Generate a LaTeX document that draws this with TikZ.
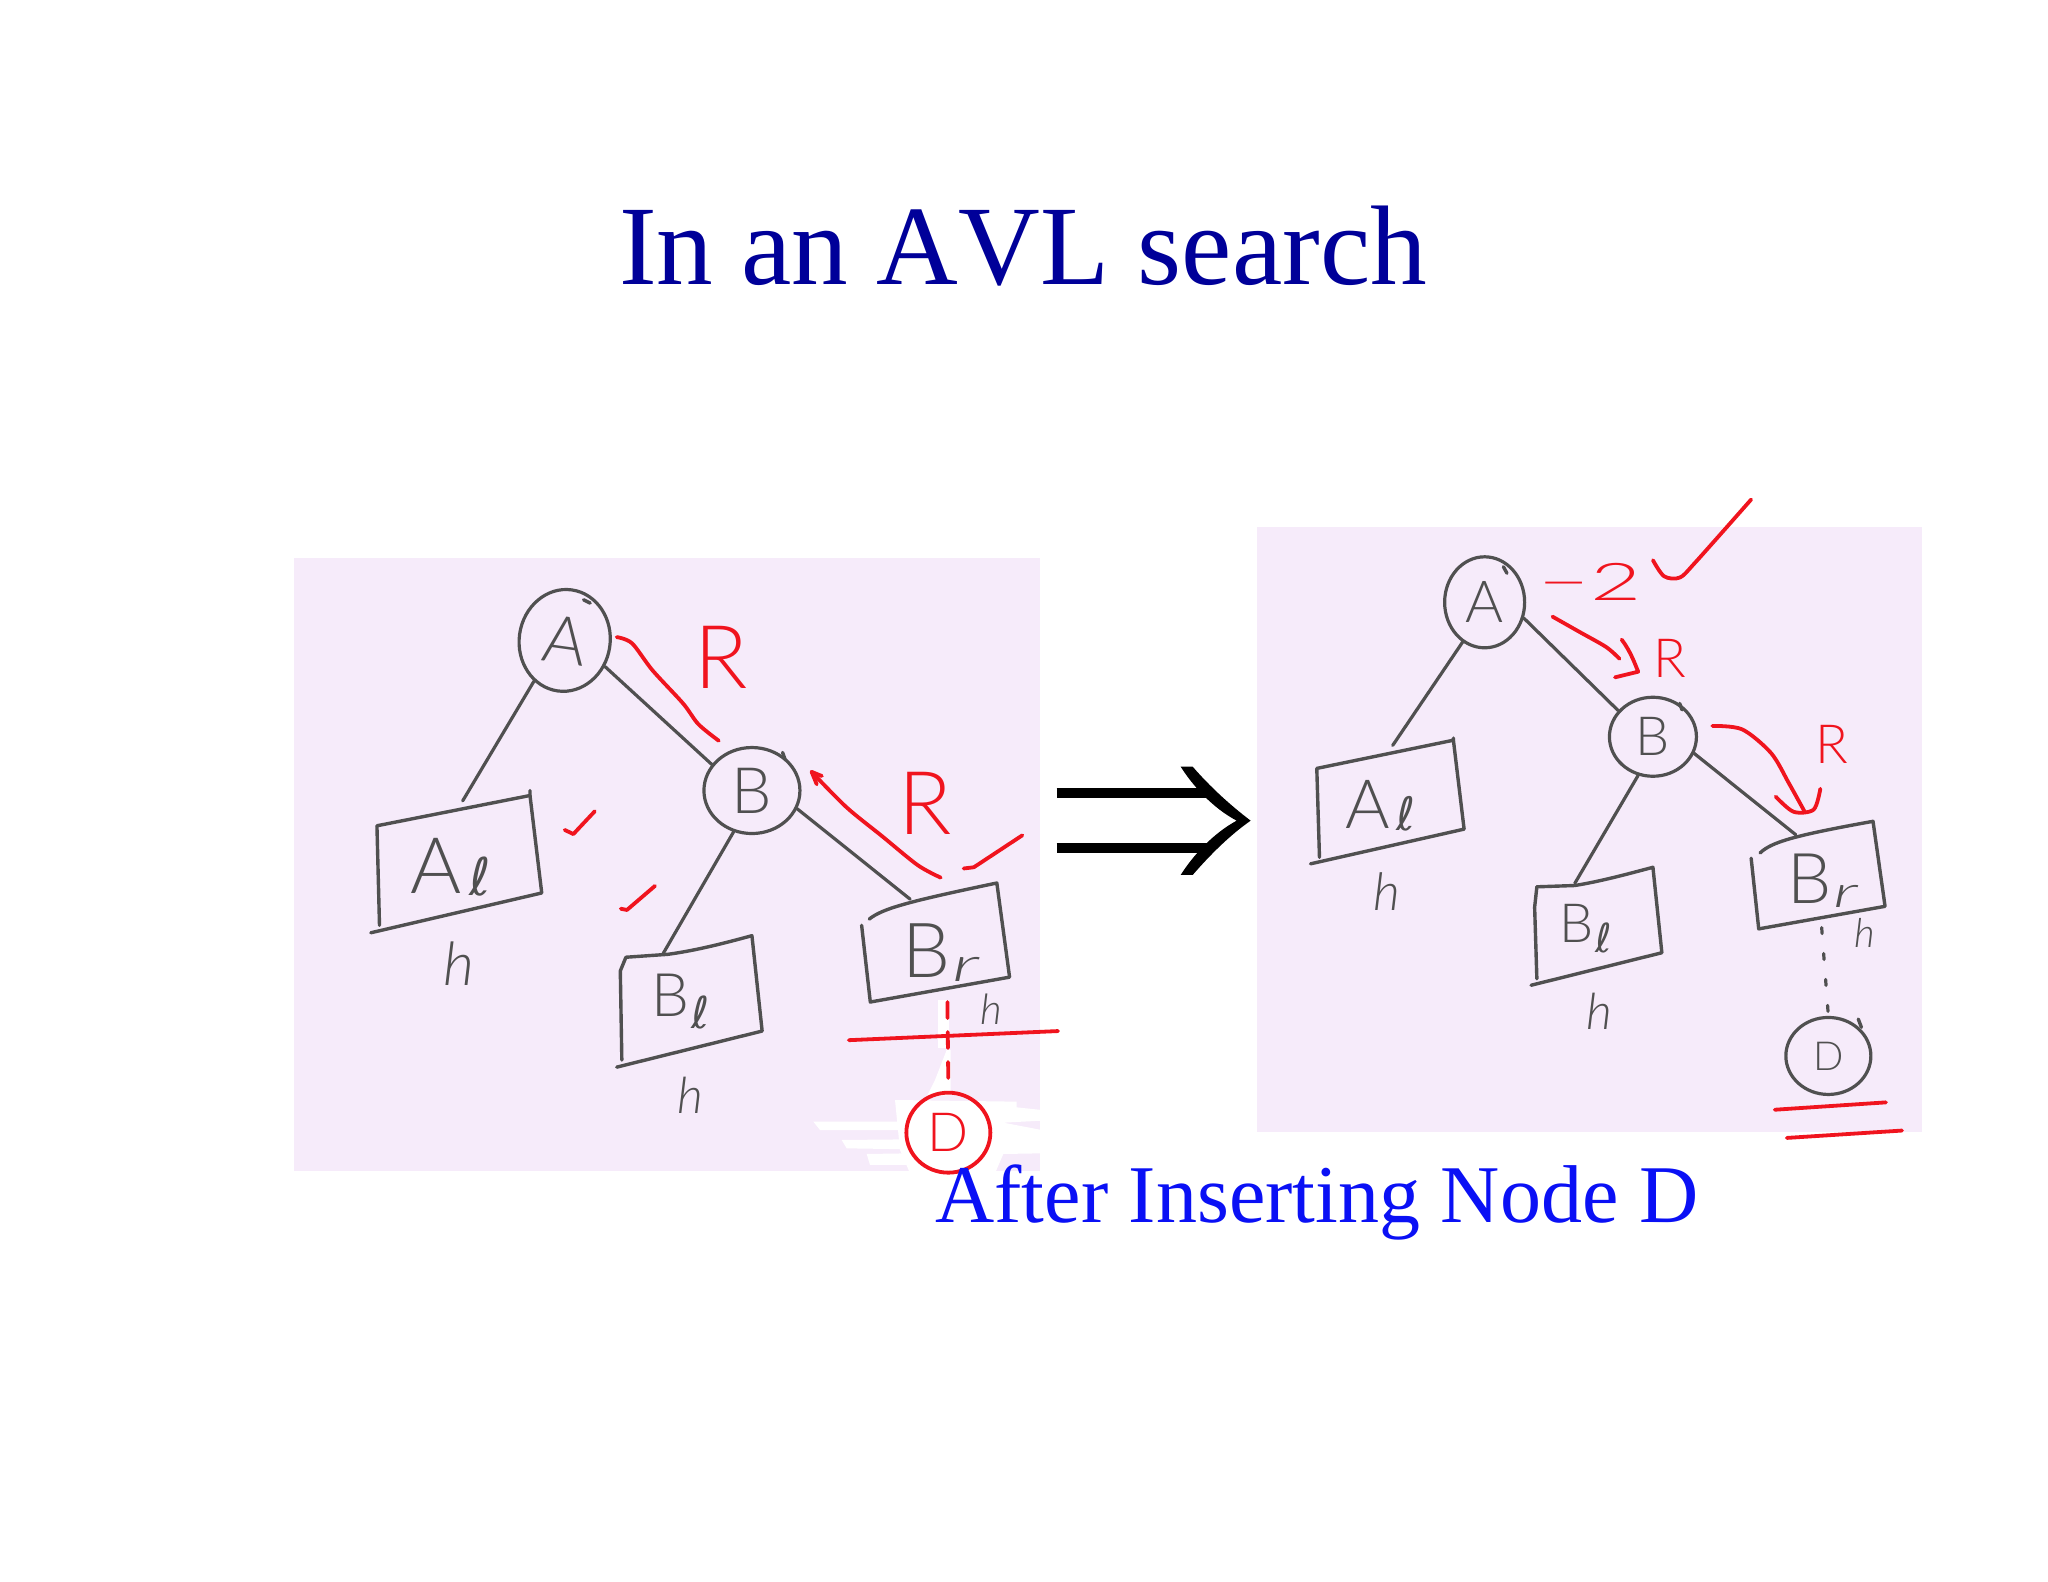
\documentclass[tikz,border=0pt]{standalone}
\usepackage{fontspec}
\usetikzlibrary{shapes.geometric,arrows.meta}
\setmainfont[Kerning=Off]{Liberation Serif}
\newfontfamily\hwfont{Lato Light}
\newfontfamily\hwital{Lato Light Italic}
\newfontfamily\ellfont{DejaVu Sans}
\definecolor{panel}{HTML}{F6EBFA}
\definecolor{ink}{HTML}{505050}
\definecolor{pen}{HTML}{F0141E}
\definecolor{titleblue}{HTML}{000099}
\definecolor{subblue}{HTML}{0A10F5}
\newcommand{\hws}[1]{\fontsize{#1}{#1}\selectfont}
\tikzset{
 circ/.style={ellipse,draw=ink,line width=1.6pt,inner sep=0pt,text=ink,font=\hwfont},
 rcirc/.style={ellipse,draw=pen,line width=1.9pt,inner sep=0pt,text=pen,font=\hwfont},
 wire/.style={draw=ink,line width=1.6pt,line cap=round},
 boxline/.style={draw=ink,line width=1.7pt,line cap=round,line join=round},
 redline/.style={draw=pen,line width=1.9pt,line cap=round,line join=round},
 lab/.style={inner sep=0pt,text=ink,font=\hwfont},
 hlab/.style={inner sep=0pt,text=ink,font=\hwital},
 rlab/.style={inner sep=0pt,text=pen,font=\hwfont},
 wipe/.style={fill=white,draw=none},
}
\begin{document}
\begin{tikzpicture}[x=0.5pt,y=-0.5pt]
\useasboundingbox (0,0) rectangle (2048,1582);
\fill[white] (0,0) rectangle (2048,1582);
\node[anchor=base,inner sep=0pt,text=titleblue,font=\hws{56.6}] (title) at (1023,285) {In an AVL search};

% ---------- panels
\fill[panel] (294,558) rectangle (1040,1171);
\fill[panel] (1257,527) rectangle (1922,1132);
% worn patches beside D
\begin{scope}[shift={(800,1050)},xscale=0.3333,yscale=0.3333]
 \fill[wipe] (40,215) -- (320,215) -- (320,240) -- (60,240) -- cycle;
 \fill[wipe] (125,270) -- (330,268) -- (330,298) -- (140,295) -- cycle;
 \fill[wipe] (200,312) -- (330,310) -- (330,345) -- (210,345) -- cycle;
 \fill[wipe] (285,150) -- (650,155) -- (650,172) -- (725,180) -- (725,212) -- (610,218) -- (725,240) -- (725,310) -- (610,312) -- (585,370) -- (330,370) -- (300,300) -- cycle;
 \fill[wipe] (405,90) -- (440,0) -- (452,0) -- (452,135) -- (380,140) -- cycle;
\end{scope}
\begin{scope}[shift={(280,550)},xscale=0.5102,yscale=0.4147]
 \fill[wipe] (1290,1085) -- (1312,1085) -- (1312,1200) -- (1290,1200) -- cycle;
 \node[circ,minimum width=45.5pt,minimum height=51pt,rotate=-8,font=\hwfont\hws{33}] (LA) at (558,218) {A};
 \node[circ,minimum width=48pt,minimum height=43pt,font=\hwfont\hws{32}] (LB) at (925,580) {B};
 \draw[boxline] (595,120) -- (608,128);
 \draw[boxline] (985,488) -- (990,505);
 % boxes
 \draw[boxline] (490,580) -- (490,592) -- (190,665) -- (195,905);
 \draw[boxline] (490,592) -- (513,827) -- (178,923);
 \draw[boxline] (678,982) -- (760,975) .. controls (820,965) and (880,945) .. (925,930) -- (945,1160) -- (660,1247);
 \draw[boxline] (678,982) -- (667,1015) -- (670,1230);
 \draw[boxline] (1155,890) .. controls (1180,865) and (1230,848) .. (1405,803) -- (1430,1030) -- (1157,1090) -- (1140,905);
 \coordinate (LAlT) at (358,605);
 \coordinate (LBlT) at (750,975);
 \coordinate (LBrT) at (1235,842);
 \draw[wire] (LA.-119) -- (LAlT);
 \draw[wire] (LA.-25) -- (LB.147);
 \draw[wire] (LB.-114) -- (LBlT);
 \draw[wire] (LB.-22) -- (LBrT);
 % labels
 \node[lab] (LAl) at (335,765) {\hws{39}A\hspace{4pt}\raisebox{-1pt}{\ellfont\hws{26}ℓ}};
 \node[lab] (LBl) at (785,1090) {\hws{30}B\hspace{1pt}\raisebox{-6pt}{\ellfont\hws{22}ℓ}};
 \node[lab] (LBr) at (1295,970) {\hws{38}B\hspace{1pt}\raisebox{-2pt}{\scalebox{1.7}[1]{\hwital\hws{24}r}}};
 \node[hlab,font=\hwital\hws{30}] (Lh1) at (350,997) {h};
 \node[hlab,font=\hwital\hws{25}] (Lh2) at (805,1315) {h};
 \node[hlab,font=\hwital\hws{21}] (Lh3) at (1395,1108) {h};
 % red marks
 \node[rcirc,minimum width=42pt,minimum height=40pt,font=\hwfont\hws{27}] (LD) at (1310,1405) {D};
 \coordinate (LBrB) at (1308,1090);
 \draw[redline,dash pattern=on 8pt off 7pt] (LBrB) -- (LD.north);
 \draw[redline] (1115,1182) -- (1525,1160);
 \draw[redline] plot[smooth] coordinates {(660,210) (690,225) (730,290) (790,370) (820,420) (860,460)};
 \draw[redline] plot[smooth] coordinates {(1042,535) (1110,620) (1180,690) (1250,760) (1295,790)};
 \draw[redline] (1042,535) -- (1062,545);
 \draw[redline] (1042,535) -- (1052,565);
 \draw[redline] (558,675) -- (575,685) -- (617,630);
 \draw[redline] (668,865) -- (680,868) -- (735,810);
 \draw[redline] (1340,768) -- (1360,765) -- (1455,688);
 \node[rlab,font=\hwfont\hws{44}] (LR1) at (865,258) {R};
 \node[rlab,font=\hwfont\hws{44}] (LR2) at (1265,612) {R};
\end{scope}

% ---------- implication arrow
\begin{scope}[shift={(1030,740)},xscale=0.3333,yscale=0.3333]
 \coordinate (ImpA) at (80,160); \coordinate (ImpB) at (540,160);
 \coordinate (ImpC) at (80,325); \coordinate (ImpD) at (540,325);
 \draw[line width=5pt] (ImpA) -- (ImpB);
 \draw[line width=5pt] (ImpC) -- (ImpD);
 \fill (452,80) -- (488,80) .. controls (540,140) and (600,195) .. (662,242) .. controls (600,285) and (540,345) .. (488,405) -- (452,405) .. controls (490,345) and (550,280) .. (620,242) .. controls (550,205) and (490,140) .. (452,80) -- cycle;
\end{scope}

% ---------- right panel
\begin{scope}[shift={(1240,480)},xscale=0.4464,yscale=0.4337]
 \node[circ,minimum width=40pt,minimum height=45.5pt,font=\hwfont\hws{29}] (RA) at (548,282) {A};
 \node[circ,minimum width=43.5pt,minimum height=39.5pt,font=\hwfont\hws{27}] (RB) at (925,592) {B};
 \node[circ,minimum width=42.5pt,minimum height=38.5pt,font=\hwfont\hws{20}] (RD) at (1318,1328) {D};
 \draw[boxline] (590,200) -- (598,215);
 \draw[boxline] (985,515) -- (990,530);
 \draw[boxline] (1385,1243) -- (1392,1262);
 \draw[boxline] (478,595) -- (478,600) -- (172,665) -- (178,870);
 \draw[boxline] (478,600) -- (502,805) -- (158,885);
 \draw[boxline] (665,938) -- (750,935) .. controls (810,925) and (870,908) .. (925,893) -- (945,1090) -- (652,1165);
 \draw[boxline] (665,938) -- (660,985) -- (665,1150);
 \draw[boxline] (1165,860) .. controls (1190,835) and (1240,820) .. (1418,787) -- (1445,983) -- (1162,1035) -- (1145,872);
 \coordinate (RAlT) at (342,612);
 \coordinate (RBlT) at (750,930);
 \coordinate (RBrT) at (1245,818);
 \coordinate (RBrB) at (1303,1032);
 \draw[wire] (RA.-119) -- (RAlT);
 \draw[wire] (RA.-22) -- (RB.143);
 \draw[wire] (RB.-111) -- (RBlT);
 \draw[wire] (RB.-22) -- (RBrT);
 \draw[wire,dash pattern=on 3pt off 10pt] (RBrB) -- (RD.north);
 \node[lab] (RAl) at (315,750) {\hws{34}A\hspace{3pt}\raisebox{-1pt}{\ellfont\hws{23}ℓ}};
 \node[lab] (RBl) at (775,1035) {\hws{27}B\hspace{1pt}\raisebox{-5pt}{\ellfont\hws{20}ℓ}};
 \node[lab] (RBr) at (1305,925) {\hws{35}B\hspace{1pt}\raisebox{-2pt}{\scalebox{1.7}[1]{\hwital\hws{22}r}}};
 \node[hlab,font=\hwital\hws{26}] (Rh1) at (330,950) {h};
 \node[hlab,font=\hwital\hws{25}] (Rh2) at (805,1225) {h};
 \node[hlab,font=\hwital\hws{20}] (Rh3) at (1400,1045) {h};
 % red marks
 \node[rlab] (Rminus2) at (784,235) {\scalebox{1.7}[1]{\hwfont\hws{26}−2}};
 \draw[redline] plot[smooth] coordinates {(925,185) (950,222) (985,225) (1020,190) (1145,45)};
 \draw[redline] plot[smooth] coordinates {(700,315) (760,350) (820,385) (850,412)};
 \draw[redline] (855,368) .. controls (875,395) and (885,425) .. (892,442) -- (840,455);
 \node[rlab,font=\hwfont\hws{27}] (RR1) at (962,412) {R};
 \draw[redline] plot[smooth] coordinates {(1058,567) (1125,575) (1190,630) (1230,700) (1265,765)};
 \draw[redline] plot[smooth] coordinates {(1200,730) (1240,765) (1285,760) (1300,712)};
 \node[rlab,font=\hwfont\hws{27}] (RR2) at (1325,610) {R};
 \draw[redline] (1198,1452) -- (1447,1435);
 \draw[redline] (1225,1517) -- (1483,1500);
\end{scope}

\node[anchor=base west,inner sep=0pt,text=subblue,font=\hws{41}] (sub) at (935,1222) {After Inserting Node D};
\end{tikzpicture}
\end{document}
